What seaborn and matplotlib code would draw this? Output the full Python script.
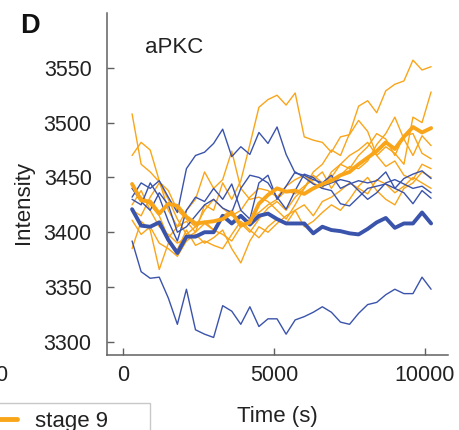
import numpy as np
import pandas as pd
import matplotlib
matplotlib.use("Agg")
import matplotlib.pyplot as plt
from matplotlib.lines import Line2D
from matplotlib.patches import Rectangle
import seaborn as sns

# time points (s)
time_s = [300, 600, 900, 1200, 1500, 1800, 2100, 2400, 2700, 3000, 3300, 3600,
          3900, 4200, 4500, 4800, 5100, 5400, 5700, 6000, 6300, 6600, 6900, 7200,
          7500, 7800, 8100, 8400, 8700, 9000, 9300, 9600, 9900, 10200]

# stage 9 single cells (orange)
org_1 = [3508, 3462, 3455, 3446, 3438, 3420, 3412, 3405, 3410, 3402, 3415, 3420,
         3408, 3400, 3412, 3422, 3428, 3420, 3432, 3440, 3452, 3445, 3450, 3462,
         3458, 3470, 3478, 3490, 3485, 3470, 3488, 3490, 3472, 3467]
org_2 = [3470, 3482, 3475, 3447, 3420, 3405, 3410, 3400, 3425, 3420, 3445, 3430,
         3447, 3480, 3514, 3521, 3525, 3516, 3527, 3487, 3484, 3482, 3473, 3487,
         3489, 3502, 3492, 3470, 3478, 3472, 3462, 3505, 3500, 3528]
org_3 = [3440, 3432, 3425, 3415, 3395, 3405, 3420, 3430, 3455, 3440, 3448, 3474,
         3440, 3430, 3432, 3428, 3420, 3412, 3425, 3440, 3455, 3462, 3475, 3470,
         3490, 3515, 3520, 3509, 3529, 3535, 3538, 3557, 3548, 3551]
org_4 = [3425, 3438, 3420, 3405, 3398, 3390, 3395, 3400, 3408, 3402, 3398, 3392,
         3405, 3412, 3418, 3425, 3430, 3438, 3435, 3442, 3448, 3455, 3440, 3452,
         3460, 3458, 3465, 3480, 3490, 3505, 3485, 3470, 3488, 3479]
org_5 = [3411, 3398, 3405, 3390, 3385, 3378, 3392, 3398, 3390, 3395, 3402, 3385,
         3372, 3392, 3405, 3400, 3408, 3415, 3420, 3405, 3410, 3418, 3425, 3420,
         3430, 3442, 3450, 3438, 3430, 3425, 3440, 3445, 3455, 3450]
org_6 = [3385, 3410, 3402, 3366, 3390, 3384, 3402, 3388, 3392, 3388, 3385, 3398,
         3410, 3402, 3395, 3405, 3412, 3408, 3420, 3425, 3415, 3428, 3432, 3438,
         3445, 3440, 3435, 3448, 3444, 3436, 3442, 3450, 3445, 3440]
org_7 = [3420, 3415, 3432, 3445, 3430, 3412, 3398, 3405, 3420, 3430, 3422, 3415,
         3420, 3432, 3440, 3438, 3432, 3442, 3448, 3452, 3445, 3440, 3455, 3462,
         3470, 3475, 3482, 3470, 3460, 3465, 3452, 3448, 3462, 3458]

# other stage single cells (blue)
blu_1 = [3392, 3364, 3358, 3359, 3340, 3316, 3348, 3311, 3307, 3304, 3333, 3328,
         3316, 3332, 3314, 3321, 3321, 3307, 3320, 3323, 3327, 3332, 3327, 3318,
         3316, 3326, 3334, 3336, 3343, 3348, 3344, 3344, 3359, 3348]
blu_2 = [3432, 3445, 3440, 3447, 3432, 3418, 3458, 3470, 3473, 3481, 3494, 3469,
         3478, 3471, 3491, 3481, 3496, 3471, 3454, 3452, 3448, 3445, 3452, 3440,
         3444, 3447, 3445, 3447, 3455, 3440, 3449, 3453, 3456, 3449]
blu_3 = [3430, 3425, 3445, 3432, 3410, 3392, 3420, 3432, 3428, 3440, 3430, 3444,
         3420, 3412, 3445, 3452, 3430, 3442, 3455, 3450, 3444, 3440, 3438, 3426,
         3424, 3432, 3440, 3442, 3444, 3440, 3436, 3426, 3438, 3431]
blu_4 = [3440, 3428, 3420, 3436, 3425, 3400, 3405, 3415, 3425, 3430, 3422, 3418,
         3440, 3452, 3450, 3445, 3432, 3421, 3438, 3453, 3450, 3442, 3445, 3448,
         3446, 3438, 3430, 3436, 3445, 3448, 3444, 3440, 3442, 3436]

# averages
org_mean = [3444, 3429, 3428, 3417, 3426, 3424, 3414, 3408, 3409, 3410, 3412, 3418,
            3406, 3409, 3426, 3434, 3440, 3437, 3438, 3435, 3440, 3444, 3447, 3452,
            3455, 3462, 3468, 3474, 3482, 3476, 3487, 3496, 3491, 3495]
blu_mean = [3421, 3406, 3405, 3409, 3393, 3381, 3396, 3396, 3400, 3400, 3415, 3408,
            3415, 3407, 3415, 3417, 3412, 3408, 3408, 3408, 3399, 3405, 3402, 3401,
            3399, 3398, 3403, 3409, 3413, 3404, 3408, 3408, 3418, 3408]

orange = "#F9A51A"
blue = "#3A53AB"

rows = []
for name, vals in [("o1", org_1), ("o2", org_2), ("o3", org_3), ("o4", org_4),
                   ("o5", org_5), ("o6", org_6), ("o7", org_7)]:
    for t, v in zip(time_s, vals):
        rows.append((t, v, name, "stage 9"))
for name, vals in [("b1", blu_1), ("b2", blu_2), ("b3", blu_3), ("b4", blu_4)]:
    for t, v in zip(time_s, vals):
        rows.append((t, v, name, "other"))
cells = pd.DataFrame(rows, columns=["time", "intensity", "cell", "group"])

sns.set_style("ticks")
plt.rcParams["font.family"] = ["Liberation Sans", "DejaVu Sans"]
txt = "#222222"
grey = "#606060"

fig = plt.figure(figsize=(4.6, 4.3), dpi=100)
ax = fig.add_axes([107 / 460, 1 - 355 / 430, 341 / 460, 342 / 430])

sns.lineplot(data=cells[cells.group == "stage 9"], x="time", y="intensity",
             units="cell", estimator=None, color=orange, lw=1.0, ax=ax)
sns.lineplot(data=cells[cells.group == "other"], x="time", y="intensity",
             units="cell", estimator=None, color=blue, lw=1.0, ax=ax)
sns.lineplot(x=time_s, y=blu_mean, color=blue, lw=2.8, ax=ax)
sns.lineplot(x=time_s, y=org_mean, color=orange, lw=2.8, ax=ax)

ax.set_xlim(-530, 10760)
ax.set_ylim(3288, 3600)
ax.set_xticks([0, 5000, 10000])
ax.set_yticks([3300, 3350, 3400, 3450, 3500, 3550])
ax.tick_params(direction="in", length=5, width=1, color=grey,
               labelsize=15.5, labelcolor=txt)
ax.tick_params(axis="y", pad=11)
ax.tick_params(axis="x", pad=7)
sns.despine(ax=ax)
for s in ["left", "bottom"]:
    ax.spines[s].set_color(grey)
    ax.spines[s].set_linewidth(1.1)

ax.set_xlabel("Time (s)", fontsize=16, color=txt)
ax.set_ylabel("Intensity", fontsize=16, color=txt)
ax.xaxis.set_label_coords(0.5, -0.15)
ax.yaxis.set_label_coords(-0.215, 0.447)
ax.text(0.11, 0.883, "aPKC", transform=ax.transAxes, fontsize=16, color=txt)

# panel letter and pieces of neighbouring panel
fig.text(20 / 460, 1 - 13 / 430, "D", fontsize=19.5, fontweight="bold",
         va="top", ha="left", color="#111111")
fig.text(7.5 / 460, 1 - 365 / 430, "0", fontsize=15.5, va="top", ha="right", color=txt)
fig.patches.append(Rectangle((-10 / 460, -0.1), 160 / 460, 0.1 + (1 - 403 / 430),
                             transform=fig.transFigure, fill=False,
                             ec="#c8c8c8", lw=1))
fig.lines.append(Line2D([-0.01, 17 / 460], [1 - 419 / 430] * 2, color=orange,
                        lw=3.5, transform=fig.transFigure))
fig.text(35 / 460, 1 - 427 / 430, "stage 9", fontsize=16, va="baseline", color=txt)

fig.savefig("out.png", dpi=100)
